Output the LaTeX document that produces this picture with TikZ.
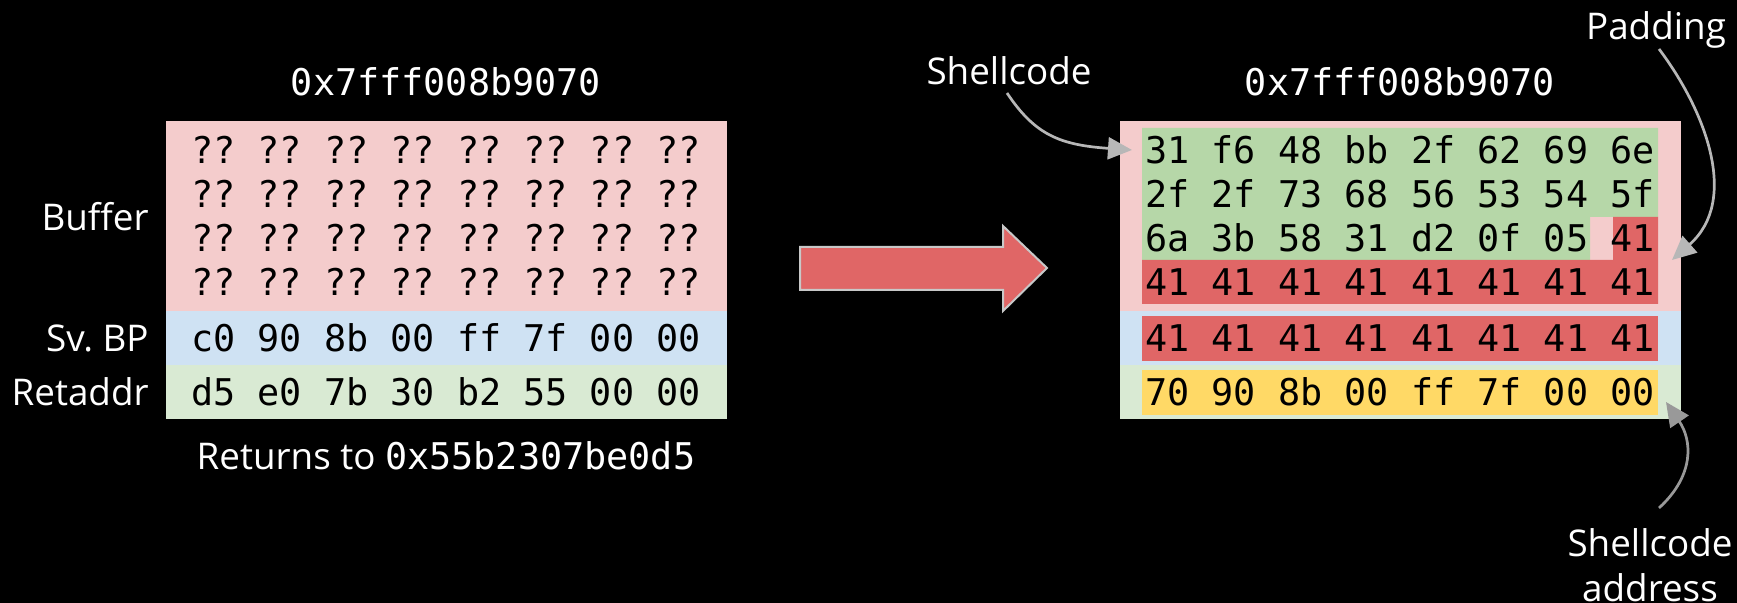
\documentclass[tikz,border=0pt]{standalone}
\usepackage{fontspec}
\setmainfont{Open Sans}
\newfontfamily\hexfont{DejaVu Sans Mono}
\usetikzlibrary{arrows.meta}

\definecolor{bufpink}{HTML}{F4CCCC}
\definecolor{bpblue}{HTML}{CFE2F3}
\definecolor{retgreen}{HTML}{D9EAD3}
\definecolor{codegreen}{HTML}{B6D7A8}
\definecolor{padred}{HTML}{E06666}
\definecolor{addryellow}{HTML}{FFD966}
\definecolor{calloutgray}{HTML}{B7B7B7}
\definecolor{calloutdark}{HTML}{999999}
\definecolor{arrowedge}{HTML}{C8C8C8}

\begin{document}
\frenchspacing
\begin{tikzpicture}[x=0.5pt,y=-0.5pt,
  lbl/.style={text=white,font=\fontsize{18.4}{22.5}\selectfont,inner sep=0},
  hex/.style={text=black,font=\hexfont\fontsize{18.4}{22}\selectfont\frenchspacing,inner sep=0,anchor=base},
  hexhead/.style={hex,text=white},
  callout/.style={draw=calloutgray,line width=1.35pt,
    -{Triangle[length=12pt,width=11pt]}}]

% canvas
\fill[black] (0,0) rectangle (1737,603);
\useasboundingbox (0,0) rectangle (1737,603);

% ---------- stack before the overflow ----------
\fill[bufpink]  (166,121) rectangle (727,311);
\fill[bpblue]   (166,311) rectangle (727,365);
\fill[retgreen] (166,365) rectangle (727,419);

\node[hexhead] (addrL) at (446,96) {0x7fff008b9070};
\node[hex] (b1) at (446,164) {?? ?? ?? ?? ?? ?? ?? ??};
\node[hex] (b2) at (446,208) {?? ?? ?? ?? ?? ?? ?? ??};
\node[hex] (b3) at (446,252) {?? ?? ?? ?? ?? ?? ?? ??};
\node[hex] (b4) at (446,296) {?? ?? ?? ?? ?? ?? ?? ??};
\node[hex] (bpL) at (446,352) {c0 90 8b 00 ff 7f 00 00};
\node[hex] (raL) at (446,406) {d5 e0 7b 30 b2 55 00 00};

\node[lbl,anchor=base east] (lbuf) at (149,231) {Buffer};
\node[lbl,anchor=base east] (lbp)  at (149,352) {Sv. BP};
\node[lbl,anchor=base east] (lra)  at (149,406) {Retaddr};

\node[lbl,anchor=base] (ret) at (446,470) {Returns to {\hexfont 0x55b2307be0d5}};

% ---------- transition arrow ----------
\filldraw[fill=padred,draw=arrowedge,line width=1pt,line join=miter]
  (800,247) -- (1003,247) -- (1003,226) -- (1047,268) -- (1003,311)
  -- (1003,290) -- (800,290) -- cycle;

% ---------- stack after the overflow ----------
\fill[bufpink]  (1120,121) rectangle (1681,311);
\fill[bpblue]   (1120,311) rectangle (1681,365);
\fill[retgreen] (1120,365) rectangle (1681,419);

% shellcode bytes
\fill[codegreen] (1142,128) -- (1658,128) -- (1658,217) -- (1590,217)
  -- (1590,260) -- (1142,260) -- cycle;
% padding bytes
\fill[padred] (1613,217) -- (1658,217) -- (1658,304) -- (1142,304)
  -- (1142,260) -- (1613,260) -- cycle;
\fill[padred] (1142,316) rectangle (1658,361);
% overwritten return address
\fill[addryellow] (1142,370) rectangle (1658,415);

\node[hexhead] (addrR) at (1400,96) {0x7fff008b9070};
\node[hex] (s1) at (1400,164) {31 f6 48 bb 2f 62 69 6e};
\node[hex] (s2) at (1400,208) {2f 2f 73 68 56 53 54 5f};
\node[hex] (s3) at (1400,252) {6a 3b 58 31 d2 0f 05 41};
\node[hex] (s4) at (1400,296) {41 41 41 41 41 41 41 41};
\node[hex] (bpR) at (1400,352) {41 41 41 41 41 41 41 41};
\node[hex] (raR) at (1400,406) {70 90 8b 00 ff 7f 00 00};

% ---------- callouts ----------
\node[lbl,anchor=base] (lshell) at (1009,85) {Shellcode};
\node[lbl,anchor=base] (lpad)   at (1656,40) {Padding};
% base of a multi-line node is the baseline of its last line
\node[lbl,anchor=base,align=center] (laddr) at (1650,602) {Shellcode\\address};

\coordinate (shellTip) at (1132,150);
\coordinate (padTip)   at (1672,260);
\coordinate (addrTip)  at (1666,402);

\draw[callout] ([shift={(-2,8)}]lshell.base)
  .. controls (1035,135) and (1060,145) .. (shellTip);
\draw[callout] ([shift={(3,9)}]lpad.base)
  .. controls (1705,110) and (1740,200) .. (padTip);
\draw[callout,draw=calloutdark] ([shift={(9,-94)}]laddr.base)
  .. controls (1695,475) and (1692,440) .. (addrTip);
\end{tikzpicture}
\end{document}
